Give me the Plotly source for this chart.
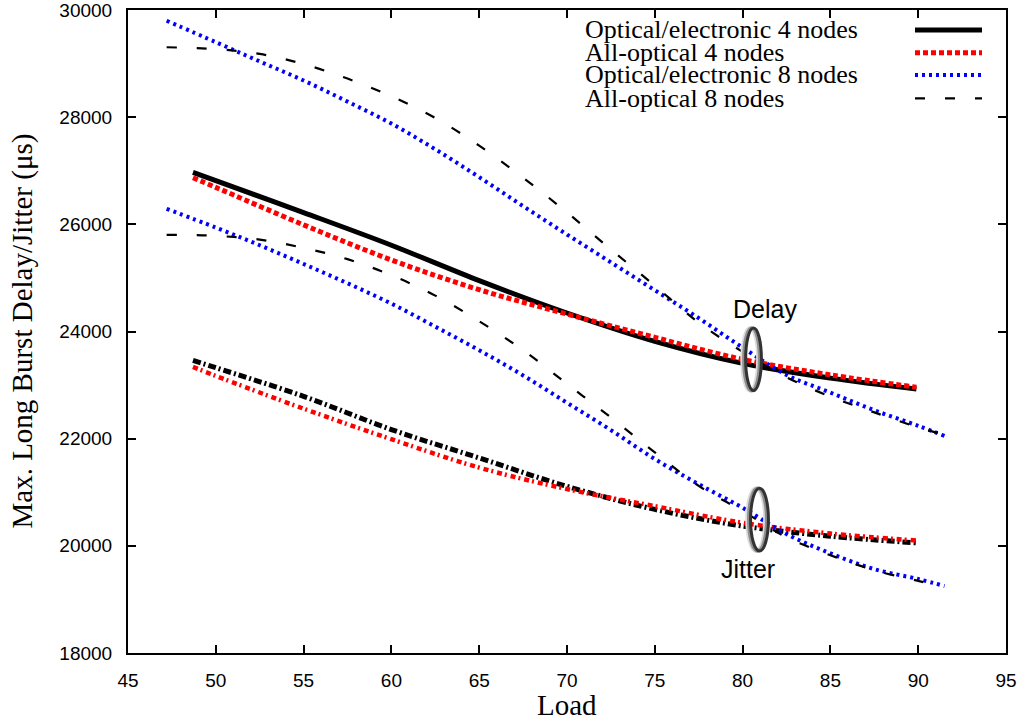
import plotly.graph_objects as go

# Load values (x) for the 4-node and 8-node runs
load_4 = [48.7, 50, 55, 60, 65, 70, 75, 80, 85, 89.9]
load_8 = [47.2, 50, 52.5, 55, 57.5, 60, 62.5, 65, 67.5, 70, 72.5, 75,
          77.5, 80, 82.5, 85, 87.5, 90, 91.5]
load_8_ao = [47.2, 50, 52.5, 55, 57.5, 60, 62.5, 65, 67.5, 70, 72.5, 75,
             77.5, 80, 82.5, 85, 87.5, 90, 91.2]

# Maximum long-burst delay (us)
oe4_delay = [26970, 26815, 26220, 25610, 24950, 24345, 23815, 23405, 23130, 22925]
ao4_delay = [26870, 26690, 25990, 25335, 24780, 24325, 23890, 23480, 23190, 22960]
oe8_delay = [29800, 29400, 29040, 28685, 28290, 27880, 27400, 26880, 26340, 25810,
             25290, 24770, 24250, 23700, 23190, 22860, 22530, 22240, 22050]
ao8_delay = [29305, 29270, 29180, 28990, 28720, 28390, 27985, 27468, 26870, 26222,
             25531, 24855, 24165, 23620, 23147, 22785, 22490, 22210, 22100]

# Maximum long-burst jitter (us)
oe4_jitter = [23460, 23325, 22790, 22170, 21640, 21110, 20680, 20370, 20180, 20055]
ao4_jitter = [23340, 23170, 22560, 21990, 21460, 21060, 20740, 20430, 20230, 20100]
oe8_jitter = [26290, 25940, 25610, 25260, 24900, 24520, 24090, 23650, 23180, 22670,
              22160, 21620, 21150, 20710, 20220, 19860, 19565, 19380, 19250]
ao8_jitter = [25805, 25785, 25715, 25560, 25350, 25050, 24670, 24191, 23650, 23022,
              22395, 21745, 21120, 20650, 20160, 19825, 19545, 19346, 19250]

series_names = ["Optical/electronic 4 nodes", "All-optical 4 nodes",
                "Optical/electronic 8 nodes", "All-optical 8 nodes"]

x_ticks = [45, 50, 55, 60, 65, 70, 75, 80, 85, 90, 95]
y_ticks = [18000, 20000, 22000, 24000, 26000, 28000, 30000]

# Line styles for the four configurations (delay / jitter variants)
style_delay = [
    dict(color="black", width=5, dash="solid"),
    dict(color="#ff0000", width=5, dash="5px,3px"),
    dict(color="#0000ff", width=4, dash="3px,4px"),
    dict(color="black", width=2.2, dash="10px,20px"),
]
style_jitter = [
    dict(color="black", width=5, dash="8px,3px,2px,3px"),
    dict(color="#ff0000", width=4.5, dash="5px,3px,2px,4px"),
    dict(color="#0000ff", width=4, dash="3px,4px"),
    dict(color="black", width=2.2, dash="10px,20px"),
]

fig = go.Figure()

jitter_sets = [(load_4, oe4_jitter), (load_4, ao4_jitter),
               (load_8, oe8_jitter), (load_8_ao, ao8_jitter)]
delay_sets = [(load_4, oe4_delay), (load_4, ao4_delay),
              (load_8, oe8_delay), (load_8_ao, ao8_delay)]

for (xs, ys), st, name in zip(jitter_sets, style_jitter, series_names):
    fig.add_trace(go.Scatter(x=xs, y=ys, mode="lines", line=dict(shape="spline", **st),
                             name=name + " jitter", showlegend=False, hoverinfo="skip"))
for (xs, ys), st, name in zip(delay_sets, style_delay, series_names):
    fig.add_trace(go.Scatter(x=xs, y=ys, mode="lines", line=dict(shape="spline", **st),
                             name=name, showlegend=False))

shapes = []
annotations = []

# Plot-area edges in page pixels
PX_L, PX_R, PX_T, PX_B = 128, 1006, 10, 653
def px_x(p):
    return (p - PX_L) / (PX_R - PX_L)
def px_y(p):
    return (PX_B - p) / (PX_B - PX_T)

serif = "Liberation Serif, Times New Roman, serif"
sans = "Liberation Sans, Arial, sans-serif"

# Key in the upper right: label on the left, line sample on the right
key_rows = [30, 52.7, 75, 98.3]
for name, st, row in zip(series_names, style_delay, key_rows):
    annotations.append(dict(x=px_x(584), y=px_y(row), xref="paper", yref="paper",
                            text=name, showarrow=False, xanchor="left", yanchor="middle",
                            borderpad=0,
                            font=dict(family=serif, size=26, color="black")))
    shapes.append(dict(type="line", xref="paper", yref="paper",
                       x0=px_x(915), x1=px_x(982), y0=px_y(row), y1=px_y(row),
                       line=dict(color=st["color"], width=st["width"], dash=st["dash"])))

# Shaded rings marking the delay and jitter bundles
def ring(cx, cy, w, h):
    dx = 1.0 / 17.56
    out = []
    for off, col, lw in [(-1.5, "#dcdcdc", 4), (0, "#909090", 3.5), (1.8, "#333333", 3)]:
        out.append(dict(type="circle", xref="x", yref="y", layer="above",
                        x0=cx - w / 2 + off * dx, x1=cx + w / 2 + off * dx,
                        y0=cy - h / 2, y1=cy + h / 2,
                        line=dict(color=col, width=lw)))
    return out

shapes += ring(80.52, 23481, 0.90, 1170)
shapes += ring(80.86, 20490, 1.02, 1170)

label_font = dict(family=sans, size=25, color="black")
annotations.append(dict(x=81.27, y=24415, xref="x", yref="y", text="Delay",
                        showarrow=False, font=label_font))
annotations.append(dict(x=80.3, y=19560, xref="x", yref="y", text="Jitter",
                        showarrow=False, font=label_font))

# Axis titles
title_font = dict(family=serif, size=29, color="black")
annotations.append(dict(x=0, y=0.5, xref="paper", yref="paper", xanchor="center",
                        yanchor="middle", xshift=22 - PX_L, textangle=-90,
                        text="Max. Long Burst Delay/Jitter (μs)", showarrow=False,
                        font=title_font))
annotations.append(dict(x=0.5, y=0, xref="paper", yref="paper", xanchor="center",
                        yanchor="middle", yshift=-(705 - PX_B), text="Load",
                        showarrow=False, font=title_font))

tick_font = dict(family=sans, size=19, color="black")
axis_common = dict(showline=True, linecolor="black", linewidth=2, mirror="ticks",
                   ticks="inside", ticklen=8, tickwidth=1.5, tickcolor="black",
                   showgrid=False, zeroline=False, tickfont=tick_font, automargin=False,
                   ticklabeloverflow="allow")

fig.update_layout(
    width=1023, height=724,
    margin=dict(l=PX_L, r=1023 - PX_R, t=PX_T, b=724 - PX_B, autoexpand=False),
    plot_bgcolor="white", paper_bgcolor="white",
    shapes=shapes, annotations=annotations,
    xaxis=dict(range=[45, 95], tickvals=x_ticks, ticktext=[str(v) for v in x_ticks],
               ticklabelstandoff=9, **axis_common),
    yaxis=dict(range=[18000, 30000], tickvals=y_ticks, ticktext=[str(v) for v in y_ticks],
               ticklabelstandoff=10, **axis_common),
    showlegend=False,
)

fig.write_html("out.html")
